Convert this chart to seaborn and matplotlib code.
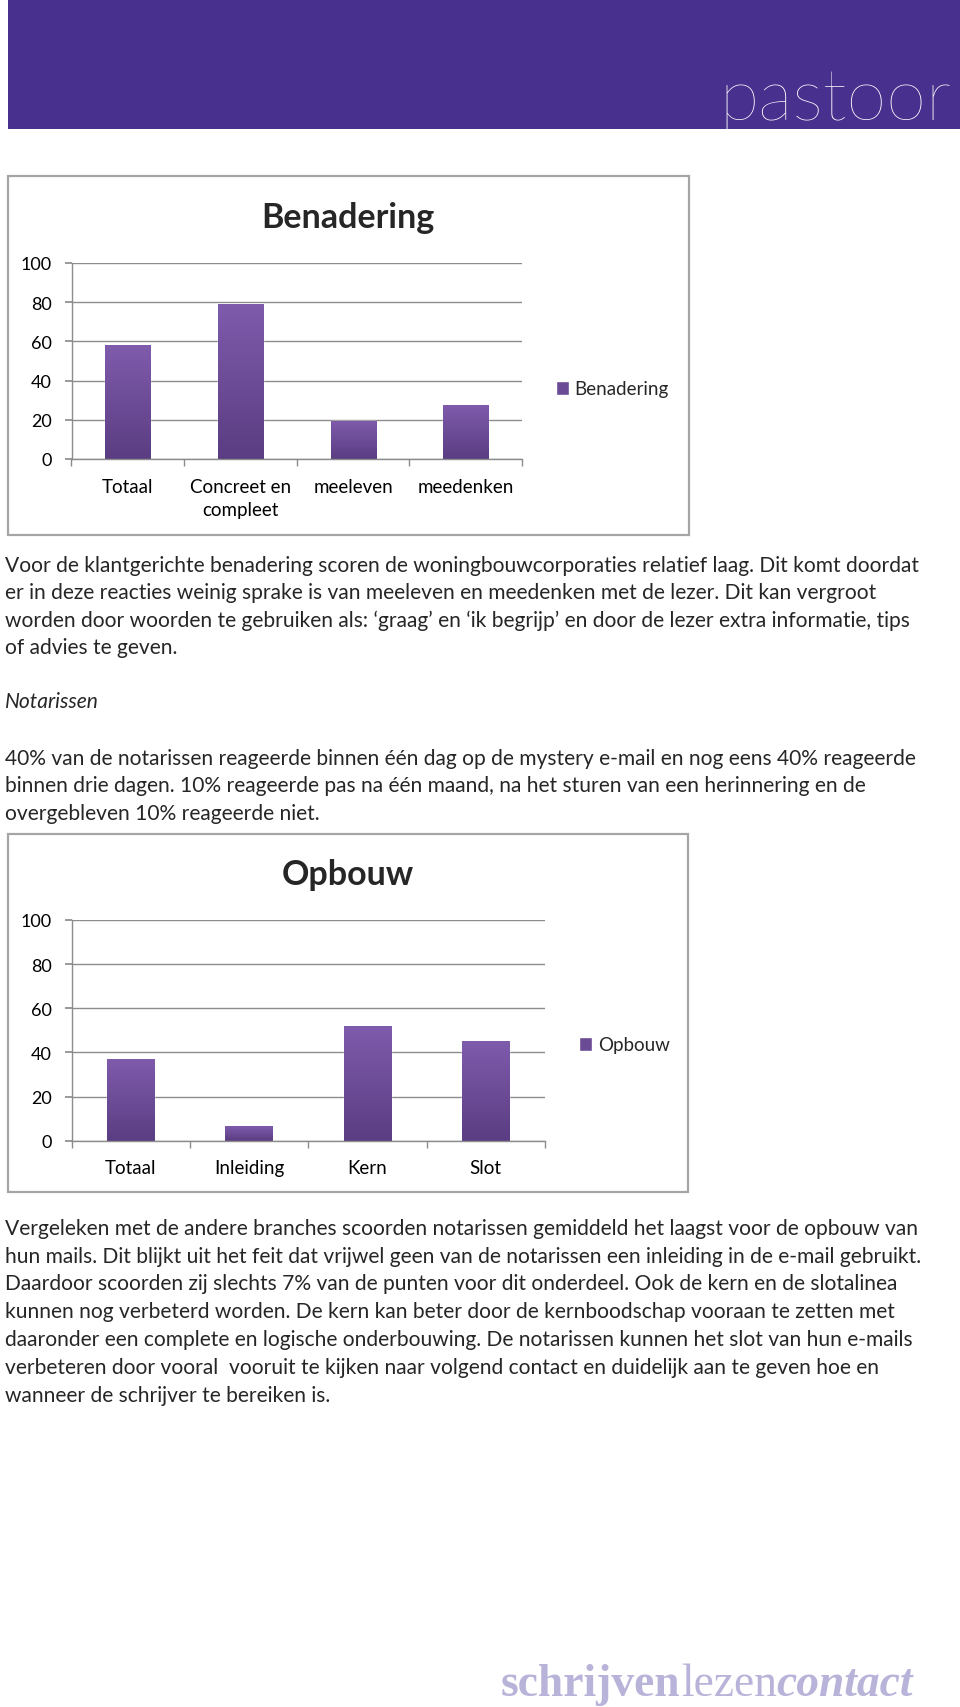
import numpy as np
import pandas as pd
import seaborn as sns
import matplotlib.pyplot as plt
import matplotlib.patches as mpatches
from matplotlib.colors import LinearSegmentedColormap

# chart data
benadering_cats = ['Totaal', 'Concreet en\ncompleet', 'meeleven', 'meedenken']
benadering_vals = [58, 79, 19.5, 27.5]
opbouw_cats = ['Totaal', 'Inleiding', 'Kern', 'Slot']
opbouw_vals = [37, 6.5, 52, 45]
y_ticks = [0, 20, 40, 60, 80, 100]

para1 = [
    'Voor de klantgerichte benadering scoren de woningbouwcorporaties relatief laag. Dit komt doordat',
    'er in deze reacties weinig sprake is van meeleven en meedenken met de lezer. Dit kan vergroot',
    'worden door woorden te gebruiken als: \u2018graag\u2019 en \u2018ik begrijp\u2019 en door de lezer extra informatie, tips',
    'of advies te geven.',
]
para2 = [
    '40% van de notarissen reageerde binnen één dag op de mystery e-mail en nog eens 40% reageerde',
    'binnen drie dagen. 10% reageerde pas na één maand, na het sturen van een herinnering en de',
    'overgebleven 10% reageerde niet.',
]
para3 = [
    'Vergeleken met de andere branches scoorden notarissen gemiddeld het laagst voor de opbouw van',
    'hun mails. Dit blijkt uit het feit dat vrijwel geen van de notarissen een inleiding in de e-mail gebruikt.',
    'Daardoor scoorden zij slechts 7% van de punten voor dit onderdeel. Ook de kern en de slotalinea',
    'kunnen nog verbeterd worden. De kern kan beter door de kernboodschap vooraan te zetten met',
    'daaronder een complete en logische onderbouwing. De notarissen kunnen het slot van hun e-mails',
    'verbeteren door vooral  vooruit te kijken naar volgend contact en duidelijk aan te geven hoe en',
    'wanneer de schrijver te bereiken is.',
]

W, H = 960, 1708
sns.set_theme(style='white')
plt.rcParams['font.family'] = ['Lato', 'DejaVu Sans']

fig = plt.figure(figsize=(9.6, 17.08), dpi=100)


def fx(px):
    return px / W


def fy(py):
    return 1 - py / H


BAR_TOP = '#7f5bac'
BAR_BOT = '#5a3d82'
GRID = '#8c8c8c'
grad = LinearSegmentedColormap.from_list('bar', [BAR_BOT, BAR_TOP])

# header band
fig.patches.append(mpatches.Rectangle((fx(8), fy(130)), fx(952), 130 / H,
                                      transform=fig.transFigure, color='#48308f', lw=0))
fig.text(fx(951), fy(120), 'pastoor', ha='right', va='baseline', color='white',
         fontsize=52, fontweight='light')


def frame(x0, y0, x1, y1):
    fig.patches.append(mpatches.Rectangle((fx(x0), fy(y1)), fx(x1 - x0), (y1 - y0) / H,
                                          transform=fig.transFigure, fill=False,
                                          ec='#a5a5a5', lw=1.6))


def chart(rect, cats, vals, title, title_base, legend_xy, label_pad):
    x0, y0, x1, y1 = rect
    ax = fig.add_axes([fx(x0), fy(y1), fx(x1 - x0), (y1 - y0) / H])
    df = pd.DataFrame({'cat': cats, 'val': vals})
    sns.barplot(data=df, x='cat', y='val', color=BAR_BOT, width=0.4, saturation=1, ax=ax)
    n = len(cats)
    # gradient fill on each bar
    for p in list(ax.patches):
        bx, by, bw, bh = p.get_x(), p.get_y(), p.get_width(), p.get_height()
        im = ax.imshow(np.linspace(0, 1, 256).reshape(-1, 1), extent=[bx, bx + bw, by, by + bh],
                       origin='lower', aspect='auto', cmap=grad, zorder=p.get_zorder() + 0.1)
        im.set_clip_path(p)
    ax.set_xlim(-0.5, n - 0.5)
    ax.set_ylim(0, 100)
    ax.set_yticks(y_ticks)
    ax.set_xlabel('')
    ax.set_ylabel('')
    ax.grid(axis='y', color=GRID, lw=1)
    ax.set_axisbelow(True)
    for s in ['top', 'right']:
        ax.spines[s].set_visible(False)
    for s in ['left', 'bottom']:
        ax.spines[s].set_color(GRID)
        ax.spines[s].set_linewidth(1)
    ax.tick_params(axis='y', left=True, length=5, color=GRID, pad=9, labelsize=13,
                   labelcolor='black')
    ax.set_xticks(np.arange(-0.5, n), minor=True)
    ax.tick_params(axis='x', which='major', length=0, pad=label_pad, labelsize=13.5,
                   labelcolor='black')
    ax.tick_params(axis='x', which='minor', bottom=True, length=5, color=GRID, direction='out')
    for lab in ax.get_xticklabels():
        lab.set_linespacing(1.4)
    fig.text(fx(348), fy(title_base), title, ha='center', va='baseline', fontsize=24.5,
             fontweight='bold')
    handle = mpatches.Patch(facecolor='#6b4b96', label=title)
    fig.legend(handles=[handle], loc='center left', bbox_to_anchor=(fx(legend_xy[0]), fy(legend_xy[1])),
               frameon=False, fontsize=13.5, handlelength=0.7, handleheight=0.7,
               handletextpad=0.3, borderpad=0, borderaxespad=0)
    return ax


frame(8, 177, 689, 536)
chart((71.5, 264, 522, 460), benadering_cats, benadering_vals, 'Benadering', 228, (556, 390), 14)

frame(8, 835, 688, 1193)
chart((71.5, 921, 545, 1141.7), opbouw_cats, opbouw_vals, 'Opbouw', 885, (579, 1046), 13.5)

# body text
BODY = 15.1
for line, yb in zip(para1, [572, 599.5, 627, 654.5]):
    fig.text(fx(5), fy(yb), line, ha='left', va='baseline', fontsize=BODY)
fig.text(fx(5), fy(708.5), 'Notarissen', ha='left', va='baseline', fontsize=BODY, style='italic')
for line, yb in zip(para2, [765, 792.5, 820]):
    fig.text(fx(5), fy(yb), line, ha='left', va='baseline', fontsize=BODY)
for line, yb in zip(para3, [1235, 1262.7, 1290.5, 1318.3, 1346, 1374, 1401.7]):
    fig.text(fx(5), fy(yb), line, ha='left', va='baseline', fontsize=BODY)

# footer logo
renderer = fig.canvas.get_renderer()
x = 501
for txt, kw in [('schrijven', dict(fontweight='bold')), ('lezen', {}),
                ('contact', dict(fontweight='bold', style='italic'))]:
    t = fig.text(fx(x), fy(1696), txt, ha='left', va='baseline', fontsize=32.8,
                 color='#b8b3d9', family='Liberation Serif', **kw)
    x += t.get_window_extent(renderer).width

fig.savefig('out.png', dpi=100)
